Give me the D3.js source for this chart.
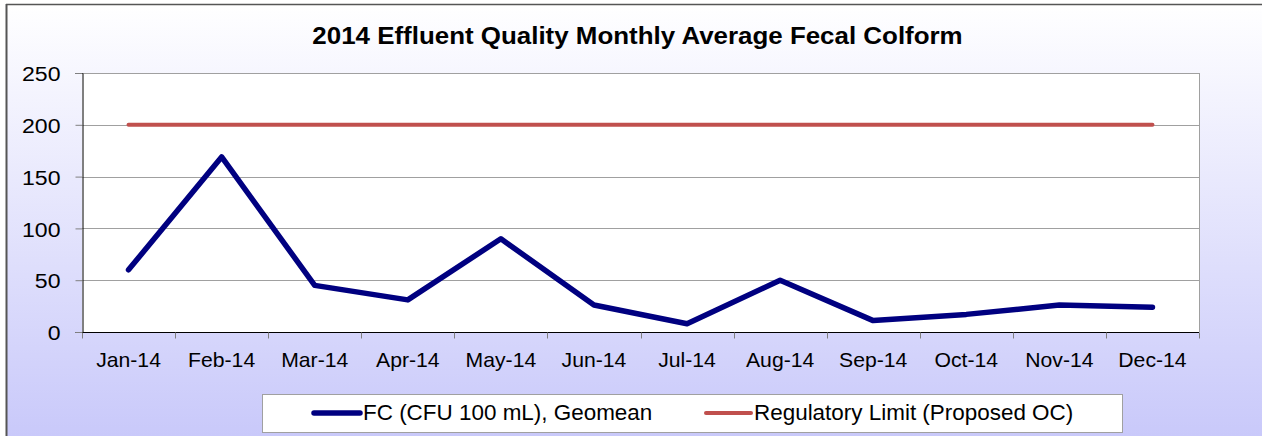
<!DOCTYPE html>
<html><head><meta charset="utf-8">
<script src="https://cdn.jsdelivr.net/npm/d3@7"></script>
<style>html,body{margin:0;padding:0;background:#fff;}svg{display:block;font-family:"Liberation Sans",Arial,sans-serif;}</style>
</head><body>
<svg id="c" width="1262" height="436"></svg>
<script>
const categories = ["Jan-14","Feb-14","Mar-14","Apr-14","May-14","Jun-14","Jul-14","Aug-14","Sep-14","Oct-14","Nov-14","Dec-14"];
const fcValues = [60,169,45,31,90,26,8,50,11,17,26,24];
const limitValues = [200,200,200,200,200,200,200,200,200,200,200,200];
const yTicks = [0,50,100,150,200,250];
const seriesNames = ["FC (CFU 100 mL), Geomean","Regulatory Limit (Proposed OC)"];
const title = "2014 Effluent Quality Monthly Average Fecal Colform";

const FONT = "Liberation Sans, Arial, sans-serif";
const svg = d3.select("#c");
const defs = svg.append("defs");
const g = defs.append("linearGradient").attr("id","bg").attr("x1",0).attr("y1",0).attr("x2",0).attr("y2",1);
g.append("stop").attr("offset","0%").attr("stop-color","#ffffff");
g.append("stop").attr("offset","100%").attr("stop-color","#c8c8fa");

svg.append("rect").attr("x",6).attr("y",4).attr("width",1262).attr("height",440).attr("fill","url(#bg)");
svg.append("line").attr("x1",6.5).attr("x2",6.5).attr("y1",4).attr("y2",436).attr("stroke","#555").attr("stroke-width",2);
svg.append("line").attr("x1",6).attr("x2",1262).attr("y1",4.5).attr("y2",4.5).attr("stroke","#555").attr("stroke-width",1.5);

const L=82, R=1199, T=73, B=332;
const x = d3.scaleBand().domain(categories).range([L,R]);
const y = d3.scaleLinear().domain([0,250]).range([B,T]);

svg.append("rect").attr("x",L).attr("y",T).attr("width",R-L).attr("height",B-T).attr("fill","#fff");

function stretchedText(parent, tx, ty, s, size, anchor, txt, weight){
  return parent.append("text").attr("transform",`translate(${tx},${ty}) scale(${s},1)`)
    .attr("text-anchor",anchor).attr("font-size",size+"px").attr("font-family",FONT)
    .attr("font-weight",weight||"normal").attr("fill","#000").text(txt);
}

stretchedText(svg, 637.5, 43.5, 1.08, 24, "middle", title, "bold");

// gridlines
svg.append("g").selectAll("line").data(yTicks.filter(d=>d>0)).join("line")
  .attr("x1",L).attr("x2",R).attr("y1",d=>Math.round(y(d))+0.5).attr("y2",d=>Math.round(y(d))+0.5)
  .attr("stroke","#a0a0a0").attr("stroke-width",1);
svg.append("line").attr("x1",R+0.5).attr("x2",R+0.5).attr("y1",T).attr("y2",B).attr("stroke","#a0a0a0");

// y axis
const yAxis = d3.axisLeft(y).tickValues(yTicks).tickSize(7).tickFormat(()=>"");
const ya = svg.append("g").attr("transform",`translate(${L+0.5},0)`).call(yAxis);
ya.select(".domain").attr("stroke","#000");
ya.selectAll(".tick line").attr("stroke","#808080");
ya.selectAll(".tick").each(function(d){
  stretchedText(d3.select(this), -22, 7.6, 1.1, 21, "end", d3.format("d")(d));
});

// x axis with ticks at band boundaries
const xa = svg.append("g").attr("transform",`translate(0,${B+0.5})`);
xa.append("line").attr("x1",L).attr("x2",R).attr("stroke","#000");
const bounds = categories.map(c=>x(c)).concat([R]);
xa.selectAll("line.t").data(bounds).join("line").attr("class","t")
  .attr("x1",d=>Math.round(d)+0.5).attr("x2",d=>Math.round(d)+0.5).attr("y1",0).attr("y2",6).attr("stroke","#808080");
categories.forEach(c=>{
  stretchedText(xa, x(c)+x.bandwidth()/2, 34, 1.06, 20, "middle", c);
});

const line = d3.line().x((d,i)=>x(categories[i])+x.bandwidth()/2).y(d=>y(d));
svg.append("path").datum(limitValues).attr("d",line).attr("fill","none")
  .attr("stroke","#c0504d").attr("stroke-width",4).attr("stroke-linecap","round");
svg.append("path").datum(fcValues).attr("d",line).attr("fill","none")
  .attr("stroke","#000080").attr("stroke-width",5.5).attr("stroke-linejoin","round").attr("stroke-linecap","round");

// legend
svg.append("rect").attr("x",262.5).attr("y",394.5).attr("width",860).attr("height",38).attr("fill","#fff").attr("stroke","#a0a0a0");
const lg = [{n:seriesNames[0],c:"#000080",w:5.5,x1:314,x2:360,tx:363},{n:seriesNames[1],c:"#c0504d",w:4,x1:706,x2:751,tx:754}];
lg.forEach(d=>{
  svg.append("line").attr("x1",d.x1).attr("x2",d.x2).attr("y1",413).attr("y2",413).attr("stroke",d.c).attr("stroke-width",d.w).attr("stroke-linecap","round");
  stretchedText(svg, d.tx, 420, 1.02, 22, "start", d.n);
});
</script>
</body></html>
